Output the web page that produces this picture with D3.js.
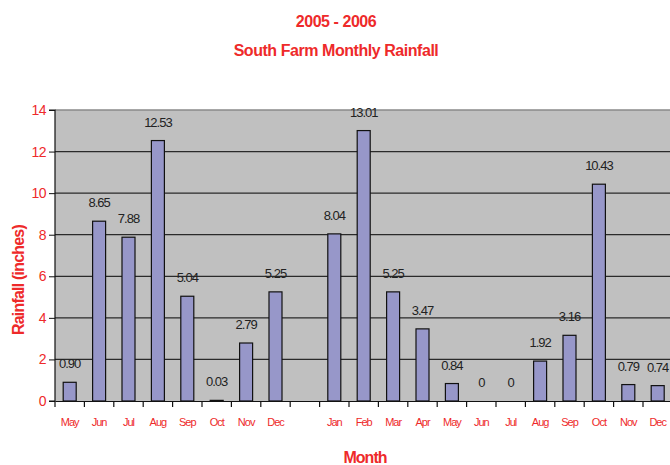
<!DOCTYPE html>
<html><head><meta charset="utf-8">
<script src="https://cdn.jsdelivr.net/npm/d3@7"></script>
<style>body{margin:0;background:#fff;}svg{display:block;font-family:"Liberation Sans",Arial,sans-serif;}</style>
</head><body><svg id="c" width="670" height="465"></svg>
<script>
const months = ["May","Jun","Jul","Aug","Sep","Oct","Nov","Dec","","Jan","Feb","Mar","Apr","May","Jun","Jul","Aug","Sep","Oct","Nov","Dec"];
const rainfall = [0.90,8.65,7.88,12.53,5.04,0.03,2.79,5.25,null,8.04,13.01,5.25,3.47,0.84,0,0,1.92,3.16,10.43,0.79,0.74];
const labels = ["0.90","8.65","7.88","12.53","5.04","0.03","2.79","5.25","","8.04","13.01","5.25","3.47","0.84","0","0","1.92","3.16","10.43","0.79","0.74"];
const yTicks = [0,2,4,6,8,10,12,14];
const titleLines = ["2005 - 2006","South Farm Monthly Rainfall"];

const svg = d3.select("#c");
const L = 55, T = 110, B = 401, R = 672.4;
const idx = months.map((d,i)=>i);
const x = d3.scaleBand().domain(idx).range([L,R]).padding(0);
const y = d3.scaleLinear().domain([0,14]).range([B,T]);
const red = "#ee2a2a";

svg.append("rect").attr("x",L).attr("y",T).attr("width",R-L).attr("height",B-T).attr("fill","#c0c0c0");
svg.append("line").attr("x1",L).attr("x2",R).attr("y1",T).attr("y2",T).attr("stroke","#8a8a8a").attr("stroke-width",1.5);

// gridlines
svg.append("g").selectAll("line").data(yTicks.filter(d=>d>0 && d<14)).join("line")
  .attr("x1",L).attr("x2",R).attr("y1",d=>y(d)).attr("y2",d=>y(d))
  .attr("stroke","#2a2a2a").attr("stroke-width",1.2);

// bars
const bw = 13;
svg.append("g").selectAll("rect").data(rainfall.map((v,i)=>({v,i})).filter(d=>d.v!==null && d.v>0)).join("rect")
  .attr("x",d=>x(d.i)+x.bandwidth()/2-bw/2).attr("y",d=>y(d.v))
  .attr("width",bw).attr("height",d=>y(0)-y(d.v))
  .attr("fill","#9797c9").attr("stroke","#111").attr("stroke-width",1.2);

// value labels
svg.append("g").selectAll("text").data(rainfall.map((v,i)=>({v,i})).filter(d=>d.v!==null)).join("text")
  .attr("x",d=>x(d.i)+x.bandwidth()/2).attr("y",d=>y(d.v)-14)
  .attr("text-anchor","middle").attr("font-size",13).attr("letter-spacing","-1")
  .attr("fill","#222").text(d=>labels[d.i]);

// y axis
const ya = svg.append("g").attr("transform",`translate(${L},0)`)
  .call(d3.axisLeft(y).tickValues(yTicks).tickSize(6).tickPadding(3).tickFormat(d3.format("d")));
ya.select(".domain").attr("stroke","#111").attr("stroke-width",1.2).attr("d",`M-6,${T}H0V${B}H-6`);
ya.selectAll(".tick line").attr("stroke","#111");
ya.selectAll("text").attr("fill",red).attr("font-size",14).attr("font-family","Liberation Sans, Arial, sans-serif").attr("letter-spacing","-0.5");

// x axis
const xa = svg.append("g").attr("transform",`translate(0,${B})`)
  .call(d3.axisBottom(x).tickSize(0).tickPadding(17).tickFormat(i=>months[i]));
xa.select(".domain").attr("stroke","#111").attr("stroke-width",1.2);
xa.selectAll("text").attr("fill",red).attr("font-size",11).attr("font-family","Liberation Sans, Arial, sans-serif").attr("letter-spacing","-1");
svg.append("g").selectAll("line").data(idx.concat([idx.length])).join("line")
  .attr("x1",d=>L+d*x.bandwidth()).attr("x2",d=>L+d*x.bandwidth())
  .attr("y1",B).attr("y2",B+6).attr("stroke","#111").attr("stroke-width",1.2);

// titles
svg.selectAll(".title").data(titleLines).join("text").attr("class","title")
  .attr("x",336).attr("y",(d,i)=>i===0?27:56).attr("text-anchor","middle")
  .attr("font-size",16).attr("font-weight","bold").attr("letter-spacing","-0.45").attr("fill",red).text(d=>d);

svg.append("text").attr("transform","translate(24,280) rotate(-90)").attr("text-anchor","middle")
  .attr("font-size",16).attr("font-weight","bold").attr("letter-spacing","-0.8").attr("fill",red).text("Rainfall (inches)");
svg.append("text").attr("x",365).attr("y",463).attr("text-anchor","middle")
  .attr("font-size",16).attr("font-weight","bold").attr("letter-spacing","-1").attr("fill",red).text("Month");
</script></body></html>
